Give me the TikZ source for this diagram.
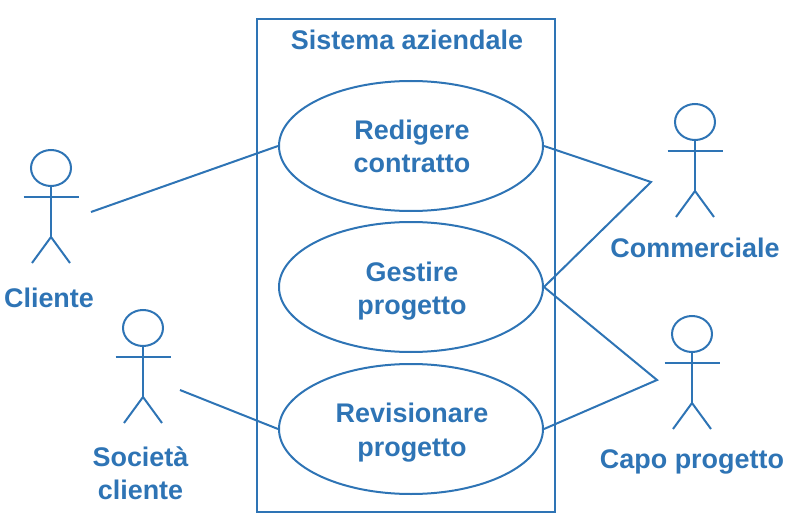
\documentclass[tikz,border=0pt]{standalone}
\usepackage{fontspec}
\setmainfont{Liberation Sans}
\usetikzlibrary{shapes.geometric}
\definecolor{ub}{HTML}{2E74B5}
\newcommand{\labfont}{\fontsize{20.2pt}{25pt}\selectfont\bfseries}
\tikzset{
 x=0.75pt,y=-0.75pt,
 line/.style={draw=ub,line width=1.5pt},
 usecase/.style={ellipse,draw=ub,line width=1.5pt,minimum width=198pt,minimum height=97.5pt,inner sep=0pt},
 lab/.style={font=\labfont,text=ub,align=center,inner sep=0pt},
 pics/actor/.style={code={
  \draw[line] (0,0) ellipse [x radius=15pt,y radius=13.5pt];
  \draw[line] (0,18) -- (0,69);
  \draw[line] (-27.5,29) -- (27.5,29);
  \draw[line] (-19,95) -- (0,69) -- (19,95);
 }}
}
\begin{document}
\begin{tikzpicture}
\useasboundingbox (0,0) rectangle (797,517);
\draw[line] (257,19) rectangle (555,512);
\node[lab] (title) at (407,40) {Sistema aziendale};
\node[usecase] (uc1) at (411,146) {};
\node[usecase] (uc2) at (411,287) {};
\node[usecase] (uc3) at (411,429) {};
\node[lab] (t1) at (412,146.5) {Redigere\\contratto};
\node[lab] (t2) at (412,291) {Gestire\\progetto};
\node[lab] (t3) at (412,432.5) {Revisionare\\progetto};
\pic at (51,168) {actor};
\pic at (143,328) {actor};
\pic at (695,122) {actor};
\pic at (692,334) {actor};
\node[lab] (cliente) at (49,298) {Cliente};
\node[lab] (societa) at (140.5,473) {Società\\cliente};
\node[lab] (comm) at (695,248) {Commerciale};
\node[lab] (capo) at (692,462) {Capo progetto};
\coordinate (a1) at (91,212);
\coordinate (a2) at (180,390);
\coordinate (a3) at (651,182);
\coordinate (a4) at (657,380);
\draw[line] (a1) -- (uc1.west);
\draw[line] (a2) -- (uc3.west);
\draw[line] (uc1.east) -- (a3) -- (uc2.east) -- (a4) -- (uc3.east);
\end{tikzpicture}
\end{document}
